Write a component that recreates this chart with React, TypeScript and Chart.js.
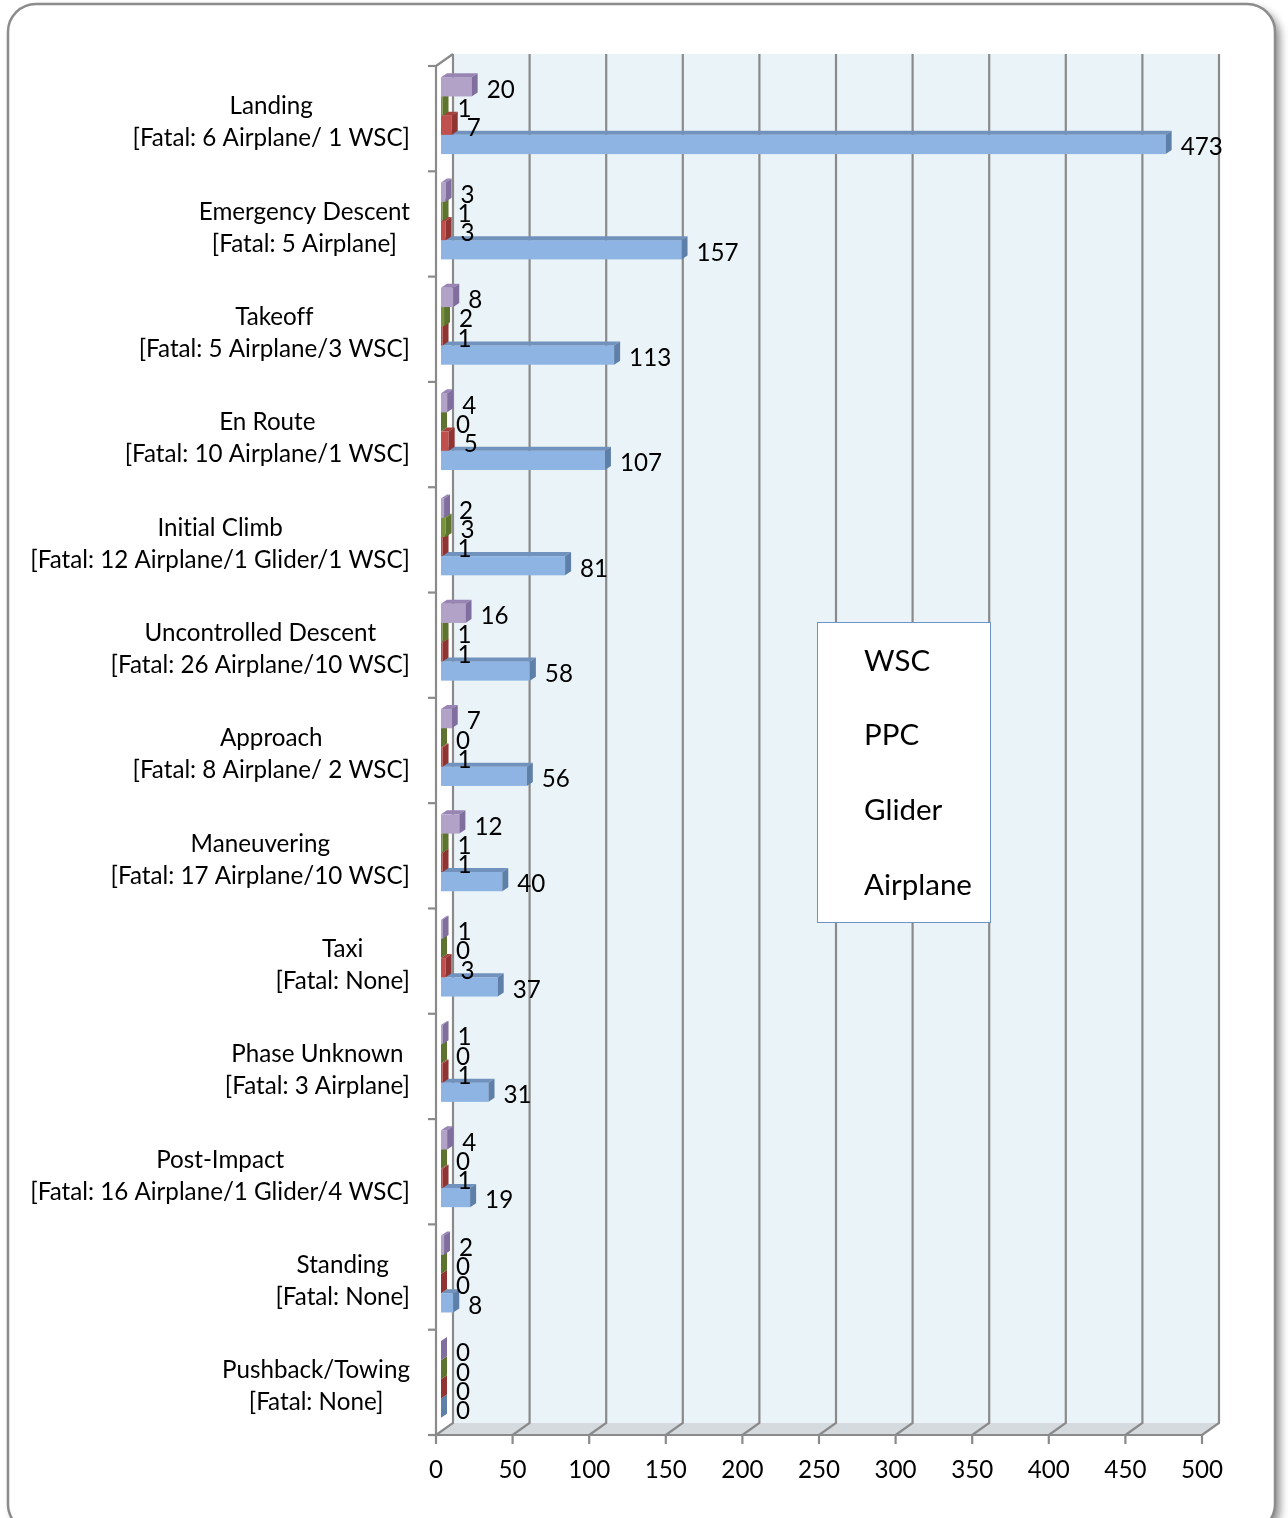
import React, { useEffect, useRef } from 'react';
import { Chart, registerables } from 'chart.js';
Chart.register(...registerables);

const categories = [
  'Landing', 'Emergency Descent', 'Takeoff', 'En Route', 'Initial Climb',
  'Uncontrolled Descent', 'Approach', 'Maneuvering', 'Taxi', 'Phase Unknown',
  'Post-Impact', 'Standing', 'Pushback/Towing',
];
const fatalNotes = [
  '[Fatal: 6 Airplane/ 1 WSC]', '[Fatal: 5 Airplane]', '[Fatal: 5 Airplane/3 WSC]',
  '[Fatal: 10 Airplane/1 WSC]', '[Fatal: 12 Airplane/1 Glider/1 WSC]',
  '[Fatal: 26 Airplane/10 WSC]', '[Fatal: 8 Airplane/ 2 WSC]', '[Fatal: 17 Airplane/10 WSC]',
  '[Fatal: None]', '[Fatal: 3 Airplane]', '[Fatal: 16 Airplane/1 Glider/4 WSC]',
  '[Fatal: None]', '[Fatal: None]',
];
const seriesNames = ['WSC', 'PPC', 'Glider', 'Airplane'];
const wscValues = [20, 3, 8, 4, 2, 16, 7, 12, 1, 1, 4, 2, 0];
const ppcValues = [1, 1, 2, 0, 3, 1, 0, 1, 0, 0, 0, 0, 0];
const gliderValues = [7, 3, 1, 5, 1, 1, 1, 1, 3, 1, 1, 0, 0];
const airplaneValues = [473, 157, 113, 107, 81, 58, 56, 40, 37, 31, 19, 8, 0];
const xTicks = [0, 50, 100, 150, 200, 250, 300, 350, 400, 450, 500];

const faceColors = [
  { front: '#B3A2C7', top: '#9885B4', side: '#806E9E' },
  { front: '#77933C', top: '#6A8535', side: '#5C742E' },
  { front: '#C0504D', top: '#A6403D', side: '#8F3432' },
  { front: '#8DB4E2', top: '#7092BC', side: '#5E7FA8' },
];

const FONT = 'Lato, "Open Sans", sans-serif';
const W = 1288;
const H = 1518;

export default function App() {
  const ref = useRef<HTMLCanvasElement>(null);
  useEffect(() => {
    const canvas = ref.current!;
    // geometry offsets
    const BX = 5, BY = 3; // bar plane -> front plane (front = bar - BX, bar + BY)
    const DX = 17, DY = 12; // front -> back
    const SX = 6, SY = 4; // bar depth

    const gridColor = '#8A8A8A';

    const noLig = (ctx: any) => {
      try { ctx.textRendering = 'optimizeSpeed'; } catch (e) { /* ignore */ }
    };

    const plugin = {
      id: 'excel3d',
      beforeDraw(chart: any) {
        const ctx = chart.ctx as CanvasRenderingContext2D;
        ctx.save();
        ctx.fillStyle = '#FFFFFF';
        ctx.fillRect(0, 0, W, H);
        // frame with shadow
        const r = 28, x0 = 8, y0 = 4, x1 = 1275, y1 = 1532;
        const path = () => {
          ctx.beginPath();
          ctx.moveTo(x0 + r, y0);
          ctx.lineTo(x1 - r, y0);
          ctx.arcTo(x1, y0, x1, y0 + r, r);
          ctx.lineTo(x1, y1 - r);
          ctx.arcTo(x1, y1, x1 - r, y1, r);
          ctx.lineTo(x0 + r, y1);
          ctx.arcTo(x0, y1, x0, y1 - r, r);
          ctx.lineTo(x0, y0 + r);
          ctx.arcTo(x0, y0, x0 + r, y0, r);
          ctx.closePath();
        };
        ctx.shadowColor = 'rgba(0,0,0,0.45)';
        ctx.shadowBlur = 8;
        ctx.shadowOffsetX = 5;
        ctx.shadowOffsetY = 5;
        path();
        ctx.fillStyle = '#FFFFFF';
        ctx.fill();
        ctx.shadowColor = 'transparent';
        ctx.lineWidth = 2.5;
        ctx.strokeStyle = '#8C8C8C';
        path();
        ctx.stroke();
        ctx.restore();
      },
      beforeDatasetsDraw(chart: any) {
        const ctx = chart.ctx as CanvasRenderingContext2D;
        const xs = chart.scales.x;
        const ys = chart.scales.y;
        const area = chart.chartArea;
        const fx = (v: number) => xs.getPixelForValue(v) - BX;
        const fTop = area.top + BY;
        const fBot = area.bottom + BY;
        ctx.save();
        noLig(ctx);
        // back wall
        const bL = fx(0) + DX, bR = fx(500) + DX;
        const bT = fTop - DY, bB = fBot - DY;
        ctx.fillStyle = '#EAF3F7';
        ctx.fillRect(bL, bT, bR - bL, bB - bT);
        // floor
        ctx.fillStyle = '#D5DADF';
        ctx.beginPath();
        ctx.moveTo(fx(0), fBot);
        ctx.lineTo(fx(500), fBot);
        ctx.lineTo(fx(500) + DX, bB);
        ctx.lineTo(fx(0) + DX, bB);
        ctx.closePath();
        ctx.fill();
        // grid lines on back wall + floor diagonals
        ctx.strokeStyle = gridColor;
        ctx.lineWidth = 2.2;
        for (const t of xTicks) {
          const x = fx(t);
          ctx.beginPath();
          ctx.moveTo(x + DX, bT);
          ctx.lineTo(x + DX, bB);
          ctx.lineTo(x, fBot);
          ctx.stroke();
          ctx.beginPath();
          ctx.moveTo(x, fBot);
          ctx.lineTo(x, fBot + 9);
          ctx.stroke();
        }
        // floor front edge
        ctx.beginPath();
        ctx.moveTo(fx(0) - 8, fBot);
        ctx.lineTo(fx(500), fBot);
        ctx.stroke();
        // left front axis
        ctx.beginPath();
        ctx.moveTo(fx(0), fTop);
        ctx.lineTo(fx(0), fBot);
        ctx.moveTo(fx(0), fTop);
        ctx.lineTo(fx(0) + DX, bT);
        ctx.stroke();
        // left ticks at category boundaries
        const n = categories.length;
        const band = (area.bottom - area.top) / n;
        for (let i = 0; i <= n; i++) {
          const y = fTop + i * band;
          ctx.beginPath();
          ctx.moveTo(fx(0) - 8, y);
          ctx.lineTo(fx(0), y);
          ctx.stroke();
        }
        // x tick labels
        ctx.fillStyle = '#000000';
        ctx.font = `${chart.$fs}px ${FONT}`;
        ctx.textAlign = 'center';
        ctx.textBaseline = 'middle';
        for (const t of xTicks) {
          ctx.fillText(String(t), fx(t), fBot + 35);
        }
        // category labels
        const rightEdge = fx(0) - 26;
        for (let i = 0; i < n; i++) {
          const y = ys.getPixelForValue(i);
          const l1 = categories[i], l2 = fatalNotes[i];
          const w = Math.max(ctx.measureText(l1).width, ctx.measureText(l2).width);
          const cx = rightEdge - w / 2;
          ctx.fillText(l1, cx, y - 9);
          ctx.fillText(l2, cx, y + 23);
        }
        ctx.restore();
      },
      afterDatasetsDraw(chart: any) {
        const ctx = chart.ctx as CanvasRenderingContext2D;
        ctx.save();
        noLig(ctx);
        const nd = chart.data.datasets.length;
        const n = categories.length;
        for (let i = 0; i < n; i++) {
          for (let d = nd - 1; d >= 0; d--) {
            const el = chart.getDatasetMeta(d).data[i];
            const p = el.getProps(['x', 'y', 'base', 'height'], true);
            const x0 = Math.min(p.base, p.x), x1 = Math.max(p.base, p.x);
            const y0 = p.y - p.height / 2, y1 = p.y + p.height / 2;
            const c = faceColors[d];
            ctx.fillStyle = c.front;
            ctx.fillRect(x0, y0, x1 - x0, y1 - y0);
            ctx.fillStyle = c.top;
            ctx.beginPath();
            ctx.moveTo(x0, y0);
            ctx.lineTo(x1, y0);
            ctx.lineTo(x1 + SX, y0 - SY);
            ctx.lineTo(x0 + SX, y0 - SY);
            ctx.closePath();
            ctx.fill();
            ctx.fillStyle = c.side;
            ctx.beginPath();
            ctx.moveTo(x1, y0);
            ctx.lineTo(x1 + SX, y0 - SY);
            ctx.lineTo(x1 + SX, y1 - SY);
            ctx.lineTo(x1, y1);
            ctx.closePath();
            ctx.fill();
          }
        }
        // value labels
        ctx.fillStyle = '#000000';
        ctx.font = `${chart.$fs}px ${FONT}`;
        ctx.textAlign = 'left';
        ctx.textBaseline = 'middle';
        for (let d = 0; d < nd; d++) {
          const meta = chart.getDatasetMeta(d);
          const vals = chart.data.datasets[d].data as number[];
          meta.data.forEach((el: any, i: number) => {
            const p = el.getProps(['x', 'y'], true);
            ctx.fillText(String(vals[i]), p.x + 15, p.y + 3);
          });
        }
        // legend
        const lx = 817.5, ly = 622.5, lw = 173, lh = 300;
        ctx.fillStyle = '#FFFFFF';
        ctx.fillRect(lx, ly, lw, lh);
        ctx.strokeStyle = '#6F93C7';
        ctx.lineWidth = 1;
        ctx.strokeRect(lx, ly, lw, lh);
        ctx.fillStyle = '#000000';
        ctx.font = `${chart.$lfs}px ${FONT}`;
        const ly0 = 661, lstep = 74.7;
        seriesNames.forEach((s, k) => {
          ctx.fillText(s, 864, ly0 + k * lstep);
        });
        ctx.restore();
      },
    };

    const mctx = document.createElement('canvas').getContext('2d')!;
    noLig(mctx);
    mctx.font = `26px ${FONT}`;
    const wMeasured = mctx.measureText('[Fatal: 12 Airplane/1 Glider/1 WSC]').width;
    const fs = Math.round((26 * 380 / wMeasured) * 10) / 10;
    mctx.font = `30px ${FONT}`;
    const lw = mctx.measureText('Airplane').width;
    const lfs = Math.round((30 * 108 / lw) * 10) / 10;

    const datasetsValues = [wscValues, ppcValues, gliderValues, airplaneValues];
    const chart: any = new Chart(canvas, {
      type: 'bar',
      data: {
        labels: categories,
        datasets: seriesNames.map((name, k) => ({
          label: name,
          data: datasetsValues[k],
          backgroundColor: 'rgba(0,0,0,0)',
          borderWidth: 0,
          categoryPercentage: 0.73,
          barPercentage: 1,
        })),
      },
      options: {
        indexAxis: 'y',
        responsive: false,
        animation: false,
        layout: { padding: { left: 441, right: W - 1207, top: 63, bottom: H - 1432 } },
        scales: {
          x: { type: 'linear', min: 0, max: 500, display: false },
          y: { type: 'category', display: false },
        },
        plugins: { legend: { display: false }, tooltip: { enabled: false } },
      },
      plugins: [plugin],
    });
    chart.$fs = fs;
    chart.$lfs = lfs;
    chart.draw();
    return () => chart.destroy();
  }, []);

  return (
    <div style={{ position: 'absolute', left: 0, top: 0, width: W, height: H }}>
      <canvas ref={ref} width={W} height={H} style={{ display: 'block', width: W, height: H }} />
    </div>
  );
}
